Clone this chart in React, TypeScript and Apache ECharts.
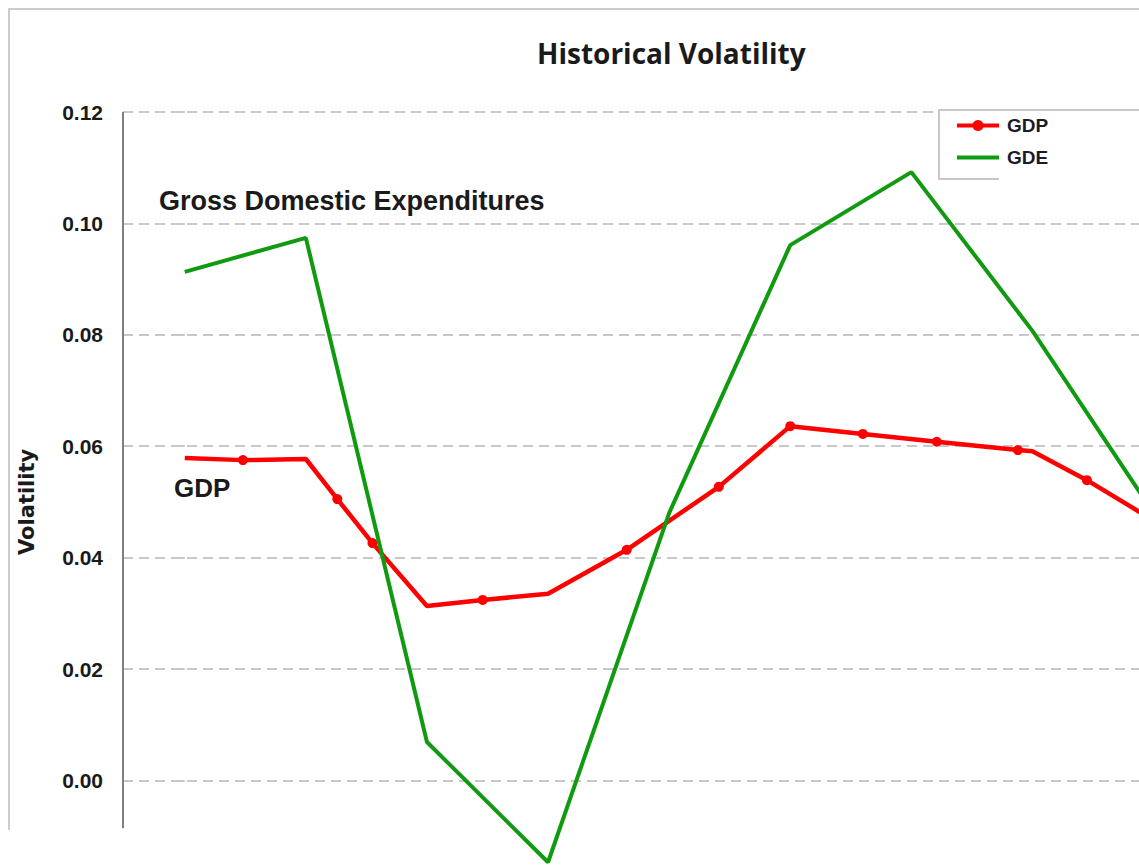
import React, { useEffect, useRef } from "react";
import * as echarts from "echarts";

// x positions are in years from the first observation (hidden axis)
const gdpT = [0, 0.48, 1.0, 1.26, 1.55, 2.0, 2.46, 3.0, 3.65, 4.41, 5.0, 5.6, 6.21, 6.88, 7.0, 7.45, 7.9];
const gdpValues = [0.0579, 0.0575, 0.0577, 0.0505, 0.0426, 0.0313, 0.0324, 0.0335, 0.0414, 0.0527, 0.0636, 0.0622, 0.0608, 0.0593, 0.0591, 0.0539, 0.048];
const gdpMarked = [false, true, false, true, true, false, true, false, true, true, true, true, true, true, false, true, false];

const gdeT = [0, 1, 2, 3, 4, 5, 6, 7, 8];
const gdeValues = [0.0913, 0.0974, 0.0069, -0.0147, 0.048, 0.0961, 0.1092, 0.0807, 0.048];

const seriesNames = ["GDP", "GDE"];
const titleText = "Historical Volatility";
const yAxisName = "Volatility";
const yMin = -0.02;
const yMax = 0.12;
const yStep = 0.02;
const yAxisLineBottom = -0.0086;
const xMin = -0.51;
const xMax = 7.88;

const annotationGDE = "Gross Domestic Expenditures";
const annotationGDP = "GDP";

export default function App() {
  const ref = useRef<HTMLDivElement>(null);
  useEffect(() => {
    if (!ref.current) return;
    const chart = echarts.init(ref.current, null, { renderer: "svg" });
    const gdpData = gdpT.map((t, i) =>
      gdpMarked[i] ? { value: [t, gdpValues[i]] } : { value: [t, gdpValues[i]], symbol: "none" }
    );
    const gdeData = gdeT.map((t, i) => [t, gdeValues[i]]);
    const option: any = {
      animation: false,
      title: {
        text: titleText,
        left: 532,
        top: 34,
        textStyle: { fontFamily: "Open Sans", fontWeight: "bold", fontSize: 28, color: "#1a1a1a" },
      },
      legend: {
        orient: "vertical",
        left: 939,
        top: 110,
        padding: [6, 120, 12, 16],
        itemWidth: 42,
        itemHeight: 14,
        itemGap: 13,
        borderColor: "#c8c8c8",
        borderWidth: 2,
        backgroundColor: "#ffffff",
        lineStyle: { width: 4 },
        textStyle: { fontFamily: "Liberation Sans", fontWeight: "bold", fontSize: 19, color: "#1a1a2a", padding: [0, 0, 0, 3] },
        data: [{ name: seriesNames[0] }, { name: seriesNames[1], itemStyle: { opacity: 0 } }],
      },
      grid: { left: 123, right: 0, top: 112, bottom: 8.2 },
      xAxis: { type: "value", min: xMin, max: xMax, show: false },
      yAxis: {
        type: "value",
        min: yMin,
        max: yMax,
        interval: yStep,
        name: yAxisName,
        nameLocation: "middle",
        nameGap: 86,
        nameTextStyle: { fontFamily: "DejaVu Sans", fontWeight: "bold", fontSize: 21, color: "#1a1a1a" },
        axisLine: { show: false },
        axisTick: { show: true, length: 7, lineStyle: { color: "#c8c8c8", width: 2 } },
        axisLabel: {
          margin: 20,
          showMinLabel: false,
          formatter: (v: number) => v.toFixed(2),
          fontFamily: "Liberation Sans",
          fontWeight: "bold",
          fontSize: 21,
          color: "#1a1a1a",
        },
        splitLine: { show: true, lineStyle: { color: "#c8c8c8", width: 2, type: [10, 6] } },
      },
      series: [
        {
          name: seriesNames[0],
          type: "line",
          data: gdpData,
          symbol: "circle",
          symbolSize: 10,
          showAllSymbol: true,
          lineStyle: { color: "#ff0000", width: 4.5 },
          itemStyle: { color: "#ff0000" },
          z: 2,
        },
        {
          name: seriesNames[1],
          type: "line",
          data: gdeData,
          symbol: "none",
          clip: false,
          lineStyle: { color: "#109a10", width: 4 },
          itemStyle: { color: "#109a10" },
          z: 3,
          markLine: {
            silent: true,
            symbol: ["none", "none"],
            label: { show: false },
            emphasis: { disabled: true },
            lineStyle: { color: "#7f7f7f", width: 2, type: "solid" },
            data: [[{ coord: [xMin, yAxisLineBottom] }, { coord: [xMin, yMax] }]],
          },
        },
      ],
      graphic: [
        {
          type: "text",
          left: 159,
          top: 187,
          style: { text: annotationGDE, font: 'bold 27px "Liberation Sans"', fill: "#1a1a1a" },
        },
        {
          type: "text",
          left: 174,
          top: 475,
          style: { text: annotationGDP, font: 'bold 26px "Liberation Sans"', fill: "#1a1a1a" },
        },
        {
          type: "rect",
          left: 999,
          top: 174,
          z: 100,
          shape: { width: 200, height: 10 },
          style: { fill: "#ffffff" },
        },
      ],
    };
    chart.setOption(option);
    return () => chart.dispose();
  }, []);
  return (
    <div style={{ position: "fixed", left: 0, top: 0, width: 1139, height: 865, overflow: "hidden", background: "#fff" }}>
      <div
        style={{
          position: "absolute",
          left: 8,
          top: 8,
          width: 1300,
          height: 822,
          borderLeft: "2px solid #cccccc",
          borderTop: "2px solid #cccccc",
          boxSizing: "border-box",
        }}
      />
      <div ref={ref} style={{ position: "absolute", left: 0, top: 0, width: 1139, height: 900 }} />
    </div>
  );
}
